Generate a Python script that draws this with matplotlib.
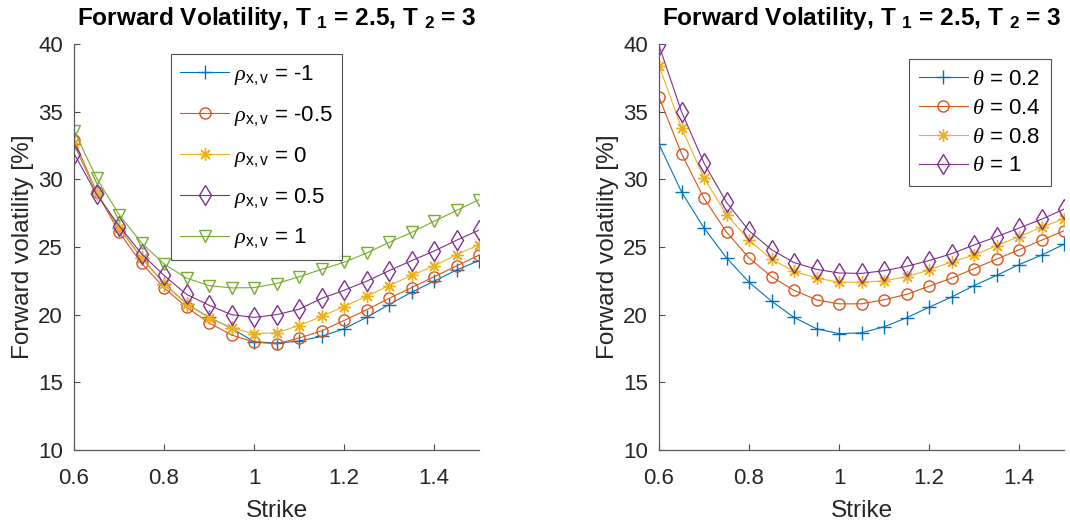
import numpy as np
import matplotlib
matplotlib.use('Agg')
import matplotlib.pyplot as plt
from matplotlib.ticker import FormatStrFormatter

plt.rcParams['font.family'] = ['Liberation Sans', 'DejaVu Sans']
plt.rcParams['mathtext.fontset'] = 'custom'
plt.rcParams['mathtext.rm'] = 'Liberation Sans'
plt.rcParams['mathtext.it'] = 'Liberation Serif:italic'
plt.rcParams['mathtext.bf'] = 'Liberation Sans:bold'

# strike grid
strike = [0.6, 0.65, 0.7, 0.75, 0.8, 0.85, 0.9, 0.95, 1.0, 1.05,
          1.1, 1.15, 1.2, 1.25, 1.3, 1.35, 1.4, 1.45, 1.5]

# left panel: varying correlation rho_{x,v}
rho_labels = ['-1', '-0.5', '0', '0.5', '1']
vol_rho_m1 = [32.6, 29.0, 26.4, 24.2, 22.3, 20.8, 19.8, 19.0, 18.0, 17.9,
              18.05, 18.4, 18.96, 19.8, 20.75, 21.66, 22.47, 23.3, 24.0]
vol_rho_m05 = [32.9, 29.07, 26.1, 23.8, 22.0, 20.55, 19.4, 18.5, 17.97, 17.85,
               18.27, 18.8, 19.57, 20.36, 21.2, 22.0, 22.8, 23.6, 24.4]
vol_rho_0 = [32.7, 29.0, 26.4, 24.2, 22.3, 20.8, 19.77, 19.0, 18.6, 18.66,
             19.2, 19.87, 20.6, 21.36, 22.15, 22.9, 23.6, 24.43, 25.17]
vol_rho_05 = [31.9, 28.9, 26.57, 24.5, 22.9, 21.5, 20.7, 20.0, 19.8, 20.0,
              20.4, 21.2, 21.8, 22.47, 23.25, 23.99, 24.7, 25.5, 26.25]
vol_rho_1 = [33.6, 30.1, 27.4, 25.3, 23.75, 22.7, 22.15, 21.98, 22.0, 22.3,
             22.8, 23.35, 23.87, 24.55, 25.34, 26.08, 26.9, 27.7, 28.5]

# right panel: varying theta
theta_labels = ['0.2', '0.4', '0.8', '1']
vol_th_02 = [32.6, 29.07, 26.4, 24.2, 22.4, 21.0, 19.8, 18.96, 18.6, 18.66,
             19.1, 19.77, 20.55, 21.3, 22.15, 22.9, 23.7, 24.4, 25.2]
vol_th_04 = [36.07, 31.9, 28.6, 26.1, 24.2, 22.8, 21.8, 21.1, 20.8, 20.8,
             21.1, 21.5, 22.1, 22.7, 23.4, 24.1, 24.8, 25.5, 26.2]
vol_th_08 = [38.4, 33.8, 30.1, 27.4, 25.5, 24.1, 23.2, 22.7, 22.4, 22.4,
             22.5, 22.8, 23.3, 23.9, 24.4, 25.1, 25.76, 26.45, 27.1]
vol_th_1 = [39.9, 35.0, 31.2, 28.3, 26.2, 24.8, 23.85, 23.35, 23.08, 23.05,
            23.25, 23.57, 24.0, 24.5, 25.15, 25.76, 26.4, 27.05, 27.8]

# matlab default line colours and markers (* drawn as an 8-spoke asterisk)
colors = ['#0072BD', '#D95319', '#EDB120', '#7E2F8E', '#77AC30']
markers = ['+', 'o', (8, 2, 0), 'd', 'v']
msizes = [10, 8, 9, 10, 9]

title = 'Forward Volatility, T $_\\mathbf{1}$ = 2.5, T $_\\mathbf{2}$ = 3'


def style_axes(ax):
    ax.set_xlim(0.6, 1.5)
    ax.set_ylim(10, 40)
    ax.set_xticks([0.6, 0.8, 1.0, 1.2, 1.4])
    ax.set_yticks([10, 15, 20, 25, 30, 35, 40])
    ax.xaxis.set_major_formatter(FormatStrFormatter('%g'))
    ax.spines['top'].set_visible(False)
    ax.spines['right'].set_visible(False)
    for s in ['left', 'bottom']:
        ax.spines[s].set_color('#5a5a5a')
        ax.spines[s].set_linewidth(0.9)
    ax.tick_params(direction='in', length=4, width=0.8, color='#4d4d4d',
                   labelsize=16, labelcolor='#262626')
    ax.tick_params(axis='y', pad=8)
    ax.tick_params(axis='x', pad=13)
    ax.set_xlabel('Strike', fontsize=17.6, color='#262626', labelpad=8)
    ax.set_ylabel('Forward volatility [%]', fontsize=17.6, color='#262626', labelpad=3)
    ax.set_title(title, fontsize=17.6, fontweight='bold', pad=14)


fig = plt.figure(figsize=(10.70, 5.24), dpi=100)
ax1 = fig.add_axes([0.0692, 0.1412, 0.3785, 0.7748])
ax2 = fig.add_axes([0.6159, 0.1412, 0.3785, 0.7748])

left_series = [vol_rho_m1, vol_rho_m05, vol_rho_0, vol_rho_05, vol_rho_1]
for i, vals in enumerate(left_series):
    ax1.plot(strike, vals, color=colors[i], marker=markers[i], ms=msizes[i],
             mfc='none', mew=1.0, lw=0.8,
             label='$\\rho_{\\mathrm{x,v}}$ = ' + rho_labels[i])

right_series = [vol_th_02, vol_th_04, vol_th_08, vol_th_1]
for i, vals in enumerate(right_series):
    ax2.plot(strike, vals, color=colors[i], marker=markers[i], ms=msizes[i],
             mfc='none', mew=1.0, lw=0.8,
             label='$\\theta$ = ' + theta_labels[i])

style_axes(ax1)
style_axes(ax2)

leg1 = ax1.legend(loc='upper left', bbox_to_anchor=(0.1598, 0.897),
                  bbox_transform=fig.transFigure, fontsize=16, frameon=True,
                  fancybox=False, borderaxespad=0, handlelength=2.2,
                  handletextpad=0.2, labelspacing=0.76, borderpad=0.42)
leg1.get_frame().set_edgecolor('#262626')
leg1.get_frame().set_linewidth(0.8)

leg2 = ax2.legend(loc='upper left', bbox_to_anchor=(0.8495, 0.8874),
                  bbox_transform=fig.transFigure, fontsize=16, frameon=True,
                  fancybox=False, borderaxespad=0, handlelength=2.2,
                  handletextpad=0.2, labelspacing=0.35, borderpad=0.45)
leg2.get_frame().set_edgecolor('#262626')
leg2.get_frame().set_linewidth(0.8)

fig.savefig('out.png', dpi=100)
